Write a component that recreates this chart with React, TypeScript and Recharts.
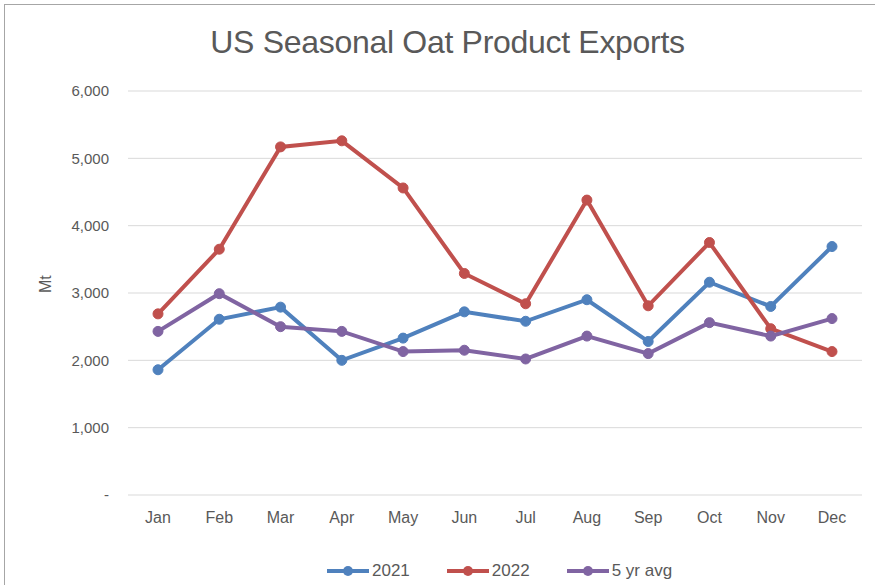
import React from "react";
import { LineChart, Line, XAxis, YAxis, CartesianGrid, Legend } from "recharts";

const months = ["Jan", "Feb", "Mar", "Apr", "May", "Jun", "Jul", "Aug", "Sep", "Oct", "Nov", "Dec"];
const exports2021 = [1860, 2610, 2790, 2000, 2330, 2720, 2580, 2900, 2280, 3160, 2800, 3690];
const exports2022 = [2690, 3650, 5170, 5260, 4560, 3290, 2840, 4380, 2810, 3750, 2470, 2130];
const fiveYrAvg = [2430, 2990, 2500, 2430, 2130, 2150, 2020, 2360, 2100, 2560, 2360, 2620];
const yTicks = [0, 1000, 2000, 3000, 4000, 5000, 6000];

const series = [
  { key: "y2021", name: "2021", color: "#4f81bd" },
  { key: "y2022", name: "2022", color: "#c0504d" },
  { key: "avg", name: "5 yr avg", color: "#8064a2" },
];

const data = months.map((m, i) => ({
  month: m,
  y2021: exports2021[i],
  y2022: exports2022[i],
  avg: fiveYrAvg[i],
}));

const FONT = "'Liberation Sans Narrow', 'Arial Narrow', 'Liberation Sans', sans-serif";
const TEXT = "#595959";

const fmt = (v: number) => (v === 0 ? "-" : v.toLocaleString("en-US"));

function LegendRow() {
  return (
    <div style={{ display: "flex", justifyContent: "flex-start", paddingLeft: 326, gap: 36, fontFamily: FONT, fontSize: 17, color: TEXT }}>
      {series.map((s) => (
        <span key={s.key} style={{ display: "flex", alignItems: "center", gap: 2 }}>
          <svg width={44} height={12}>
            <line x1={1} y1={6} x2={43} y2={6} stroke={s.color} strokeWidth={4} />
            <circle cx={22} cy={6} r={5} fill={s.color} />
          </svg>
          {s.name}
        </span>
      ))}
    </div>
  );
}

export default function App() {
  return (
    <div style={{ position: "absolute", left: 0, top: 0, width: 875, height: 585, overflow: "hidden", background: "#fff" }}>
      <div style={{ position: "absolute", left: 4, top: 4, width: 900, height: 600, border: "1px solid #a6a6a6", boxSizing: "border-box" }} />
      <div style={{ position: "absolute", left: 10, top: 24, width: 875, textAlign: "center", fontFamily: FONT, fontSize: 32, color: TEXT, letterSpacing: -0.3 }}>
        US Seasonal Oat Product Exports
      </div>
      <div style={{ position: "absolute", left: 0, top: 0 }}>
        <LineChart width={875} height={585} data={data} margin={{ top: 91, right: 13, bottom: 30, left: 8 }}>
          <CartesianGrid vertical={false} stroke="#d9d9d9" strokeWidth={1} />
          <XAxis
            dataKey="month"
            axisLine={false}
            tickLine={false}
            padding={{ left: 30, right: 30 }}
            tick={{ fill: TEXT, fontSize: 16, fontFamily: FONT }}
            tickMargin={11}
            height={40}
          />
          <YAxis
            domain={[0, 6000]}
            ticks={yTicks}
            tickFormatter={fmt}
            axisLine={false}
            tickLine={false}
            width={120}
            tick={{ fill: TEXT, fontSize: 15, fontFamily: FONT }}
            tickMargin={13}
            label={{ value: "Mt", angle: -90, position: "insideLeft", offset: 37, fill: TEXT, fontSize: 16, fontFamily: FONT }}
          />
          <Legend verticalAlign="bottom" content={() => <LegendRow />} wrapperStyle={{ bottom: 4, left: 0, width: 875 }} />
          {series.map((s) => (
            <Line
              key={s.key}
              dataKey={s.key}
              name={s.name}
              stroke={s.color}
              strokeWidth={4}
              dot={{ r: 5, fill: s.color, stroke: s.color, strokeWidth: 1 }}
              isAnimationActive={false}
            />
          ))}
        </LineChart>
      </div>
    </div>
  );
}
